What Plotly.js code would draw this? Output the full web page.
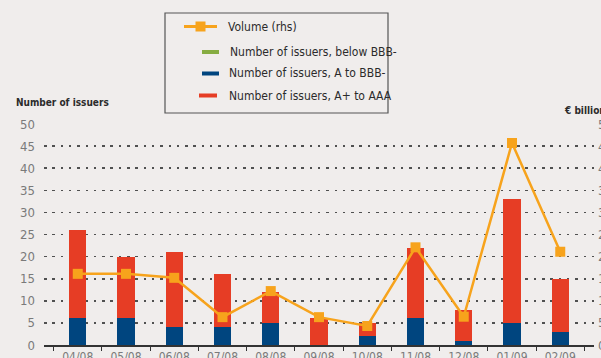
<!DOCTYPE html>
<html>
<head>
<meta charset="utf-8">
<script src="https://cdn.plot.ly/plotly-3.0.1.min.js"></script>
<style>
  html, body { margin: 0; padding: 0; background: #F0EDEC; }
  #chart { width: 601px; height: 358px; }
</style>
</head>
<body>
<div id="chart"></div>
<script>
// Monthly issuance: number of issuers by rating bucket, plus volume (rhs, EUR bn)
const months = ['04/08', '05/08', '06/08', '07/08', '08/08', '09/08', '10/08', '11/08', '12/08', '01/09', '02/09'];
const issuersBelowBBB = [0, 0, 0, 0, 0, 0, 0, 0, 0, 0, 0];
const issuersAtoBBB = [6, 6, 4, 4, 5, 0, 2, 6, 1, 5, 3];
const issuersAplusToAAA = [20, 14, 17, 12, 7, 6, 3, 16, 7, 28, 12];
const volumeBn = [16.1, 16.1, 15.2, 6.3, 12.2, 6.3, 4.3, 22.1, 6.4, 45.7, 21.1];

const legendLabels = ['Volume (rhs)', 'Number of issuers, below BBB-', 'Number of issuers, A to BBB-', 'Number of issuers, A+ to AAA'];

const COLORS = { red: '#E63D25', blue: '#00457F', green: '#86AC41', orange: '#F7A31C' };
const FONT = '"Liberation Sans Narrow", "DejaVu Sans Condensed", Roboto, sans-serif';
const BG = '#F0EDEC';

// plot area geometry (px) used to place the hand-built legend box
const PL = 44, PW = 550, PT = 124, PH = 221;
const fx = px => (px - PL) / PW;
const fy = py => (PT + PH - py) / PH;

const traces = [
  { type: 'bar', x: months, y: issuersBelowBBB, marker: { color: COLORS.green }, width: 0.36, showlegend: false, hoverinfo: 'skip' },
  { type: 'bar', x: months, y: issuersAtoBBB, marker: { color: COLORS.blue }, width: 0.36, showlegend: false },
  { type: 'bar', x: months, y: issuersAplusToAAA, marker: { color: COLORS.red }, width: 0.36, showlegend: false },
  {
    type: 'scatter', mode: 'lines+markers', x: months, y: volumeBn, yaxis: 'y2',
    line: { color: COLORS.orange, width: 2.5 },
    marker: { symbol: 'square', size: 10, color: COLORS.orange },
    cliponaxis: false, showlegend: false
  }
];

// legend box drawn with shapes + annotations
const legendShapes = [
  { type: 'rect', xref: 'paper', yref: 'paper', x0: fx(165), x1: fx(388), y0: fy(13), y1: fy(113), line: { color: '#555', width: 1.2 } },
  { type: 'line', xref: 'paper', yref: 'paper', x0: fx(184), x1: fx(217), y0: fy(26.5), y1: fy(26.5), line: { color: COLORS.orange, width: 3 } },
  { type: 'rect', xref: 'paper', yref: 'paper', x0: fx(195.5), x1: fx(205.5), y0: fy(21.5), y1: fy(31.5), fillcolor: COLORS.orange, line: { width: 0 } },
  { type: 'line', xref: 'paper', yref: 'paper', x0: fx(202), x1: fx(219), y0: fy(52), y1: fy(52), line: { color: COLORS.green, width: 4 } },
  { type: 'line', xref: 'paper', yref: 'paper', x0: fx(202), x1: fx(219), y0: fy(73.5), y1: fy(73.5), line: { color: COLORS.blue, width: 4 } },
  { type: 'line', xref: 'paper', yref: 'paper', x0: fx(199), x1: fx(217), y0: fy(95.5), y1: fy(95.5), line: { color: COLORS.red, width: 4 } }
];
const legendTextPos = [[226, 26.5], [228, 52], [227, 73.5], [227, 95.5]];
const legendAnnotations = legendLabels.map((t, i) => ({
  xref: 'paper', yref: 'paper', x: fx(legendTextPos[i][0]), y: fy(legendTextPos[i][1]),
  xanchor: 'left', yanchor: 'middle', showarrow: false, text: t,
  font: { family: FONT, size: 12, color: '#2b2b2b' }
}));

const axisTitles = [
  { xref: 'paper', yref: 'paper', x: fx(14), y: fy(103), xanchor: 'left', yanchor: 'middle', showarrow: false,
    text: '<b>Number of issuers</b>', font: { family: FONT, size: 10, color: '#2b2b2b' } },
  { xref: 'paper', yref: 'paper', x: fx(562), y: fy(110), xanchor: 'left', yanchor: 'middle', showarrow: false,
    text: '<b>€ billion</b>', font: { family: FONT, size: 10, color: '#2b2b2b' } }
];

const valueAxis = {
  range: [0, 50], dtick: 5, tick0: 0, fixedrange: true,
  tickfont: { family: FONT, size: 13, color: '#7a7a7a' },
  zeroline: false, showline: false, ticks: ''
};

const layout = {
  width: 601, height: 358,
  margin: { l: PL, r: 601 - PL - PW, t: PT, b: 358 - PT - PH, pad: 0 },
  paper_bgcolor: BG, plot_bgcolor: BG,
  barmode: 'stack',
  showlegend: false,
  xaxis: {
    type: 'category', showgrid: false, showline: true, linecolor: '#333', linewidth: 1.5,
    ticks: 'outside', tickson: 'boundaries', ticklen: 4, tickcolor: '#333', tickwidth: 1.2,
    tickfont: { family: FONT, size: 12, color: '#7a7a7a' }
  },
  yaxis: Object.assign({}, valueAxis, {
    showgrid: true, gridcolor: '#505050', gridwidth: 1.6, griddash: '2.5px,5.8px', ticklabelstandoff: 8
  }),
  yaxis2: Object.assign({}, valueAxis, { overlaying: 'y', side: 'right', showgrid: false, ticklabelstandoff: 3 }),
  shapes: legendShapes,
  annotations: legendAnnotations.concat(axisTitles)
};

Plotly.newPlot('chart', traces, layout, { displayModeBar: false, staticPlot: true });
</script>
</body>
</html>
